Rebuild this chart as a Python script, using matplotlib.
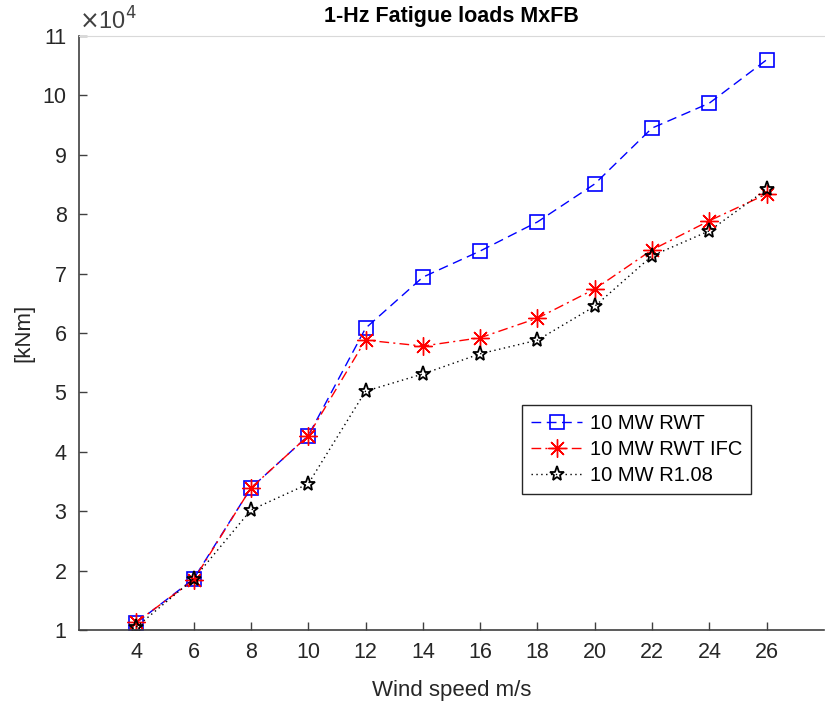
import numpy as np
import matplotlib
matplotlib.use("Agg")
import matplotlib.pyplot as plt
from matplotlib.ticker import FuncFormatter

plt.rcParams["font.family"] = ["Liberation Sans", "DejaVu Sans"]

# Data (kNm)
wind = [4, 6, 8, 10, 12, 14, 16, 18, 20, 22, 24, 26]
rwt = [11200, 18600, 33900, 42700, 60800, 69400, 73800, 78700, 85100, 94500, 98700, 106000]
rwt_ifc = [11300, 18400, 33900, 42700, 58800, 57800, 59200, 62500, 67400, 74000, 78900, 83400]
r108 = [10500, 18600, 30200, 34600, 50200, 53100, 56500, 58800, 64500, 73000, 77200, 84200]
labels = ["10 MW RWT", "10 MW RWT IFC", "10 MW R1.08"]

txt = "#262626"
fig = plt.figure(figsize=(8.25, 7.04), dpi=100)
ax = fig.add_axes([79 / 825, 74 / 704, 745 / 825, 594 / 704])

ax.plot(wind, rwt, color="#0000ff", linestyle=(0, (7, 4)), linewidth=1.0,
        marker="s", markersize=10, markerfacecolor="none", markeredgewidth=1.2,
        label=labels[0])
ax.plot(wind, rwt_ifc, color="#ff0000", linestyle=(0, (7, 3, 1.5, 3)), linewidth=1.0,
        marker=(8, 2, 0), markersize=13, markeredgewidth=1.0,
        label=labels[1])
ax.plot(wind, r108, color="#000000", linestyle=(0, (1, 2.5)), linewidth=1.0,
        marker="*", markersize=11, markerfacecolor="none", markeredgewidth=1.3,
        label=labels[2])

ax.set_xlim(2, 28)
ax.set_ylim(10000, 110000)
ax.set_xticks(wind)
ax.set_yticks(np.arange(1, 12) * 10000)
ax.yaxis.set_major_formatter(FuncFormatter(lambda v, p: f"{v / 1e4:g}"))
ax.tick_params(direction="in", length=6, width=1, colors="#404040",
               labelcolor=txt, labelsize=15.5, pad=9)

ax.spines["right"].set_visible(False)
ax.spines["top"].set_color("#d9d9d9")
ax.spines["left"].set_color("#404040")
ax.spines["bottom"].set_color("#404040")
ax.spines["left"].set_linewidth(1.2)
ax.spines["bottom"].set_linewidth(1.2)

ax.text(0.0, 1.003, r"$\times$10$^4$", transform=ax.transAxes, fontsize=17,
        color="#404040", ha="left", va="bottom")
ax.set_title("1-Hz Fatigue loads MxFB", fontsize=15.5, fontweight="bold",
             color="black", pad=10)
ax.set_xlabel("Wind speed m/s", fontsize=16, color=txt, labelpad=12)
ax.set_ylabel("[kNm]", fontsize=16, color=txt, labelpad=6)

leg = ax.legend(loc="upper left", bbox_to_anchor=(0.595, 0.379), borderaxespad=0,
                fontsize=14.5, fancybox=False, framealpha=1, edgecolor="#262626",
                handlelength=2.5, handletextpad=0.4, labelspacing=0.35,
                borderpad=0.45)
leg.get_frame().set_linewidth(1.0)
for t in leg.get_texts():
    t.set_color("black")

fig.savefig("out.png", dpi=100)
